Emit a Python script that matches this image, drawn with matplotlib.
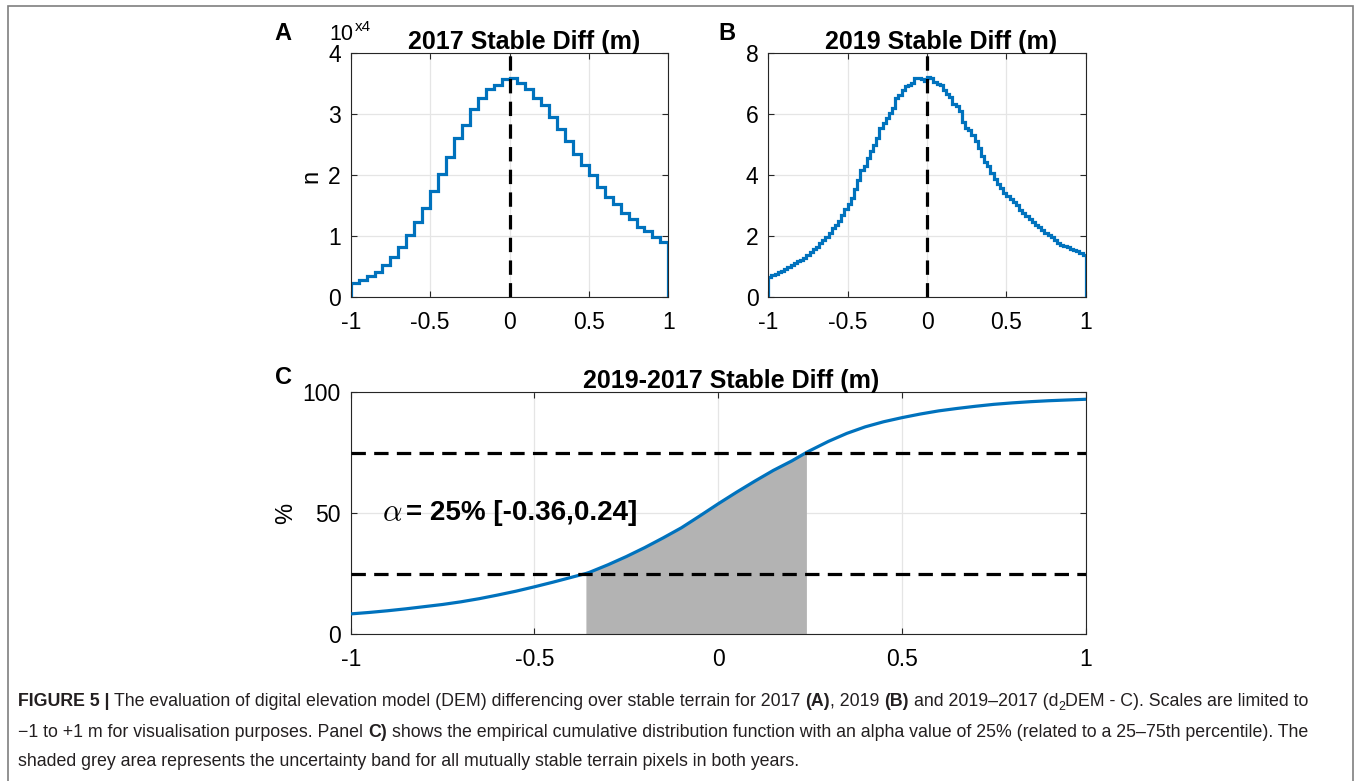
import numpy as np
import matplotlib
matplotlib.use('Agg')
import matplotlib.pyplot as plt
from matplotlib.transforms import IdentityTransform
from matplotlib.patches import Rectangle

plt.rcParams['font.family'] = ['Liberation Sans', 'DejaVu Sans']
plt.rcParams['axes.unicode_minus'] = False

#-- data (counts in units of 10^4)
edges_2017 = np.linspace(-1, 1, 41)
hist_2017 = [0.22, 0.28, 0.34, 0.41, 0.52, 0.66, 0.81, 1.02, 1.23, 1.46,
             1.74, 2.02, 2.30, 2.60, 2.82, 3.08, 3.26, 3.42, 3.48, 3.57,
             3.59, 3.51, 3.42, 3.27, 3.15, 2.96, 2.75, 2.56, 2.34, 2.16,
             2.00, 1.80, 1.64, 1.52, 1.38, 1.27, 1.15, 1.08, 0.98, 0.90]

edges_2019 = np.linspace(-1, 1, 101)
hist_2019 = [0.66, 0.72, 0.76, 0.80, 0.84, 0.90, 0.96, 1.03, 1.10, 1.16,
             1.21, 1.27, 1.36, 1.48, 1.56, 1.64, 1.75, 1.86, 1.97, 2.10,
             2.25, 2.36, 2.50, 2.68, 2.88, 3.05, 3.25, 3.55, 3.82, 4.15,
             4.30, 4.55, 4.80, 4.98, 5.22, 5.55, 5.70, 5.88, 6.05, 6.20,
             6.52, 6.62, 6.78, 6.92, 6.96, 7.02, 7.20, 7.18, 7.15, 7.10,
             7.22, 7.20, 7.06, 7.00, 6.95, 6.78, 6.65, 6.55, 6.35, 6.28,
             6.10, 5.75, 5.55, 5.48, 5.30, 5.12, 4.88, 4.62, 4.42, 4.30,
             4.05, 3.88, 3.70, 3.58, 3.42, 3.32, 3.22, 3.10, 3.00, 2.86,
             2.74, 2.66, 2.55, 2.46, 2.35, 2.28, 2.18, 2.10, 2.02, 1.95,
             1.85, 1.78, 1.70, 1.66, 1.63, 1.58, 1.54, 1.50, 1.45, 1.36]

cdf_x = [-1.0, -0.95, -0.9, -0.85, -0.8, -0.75, -0.7, -0.65, -0.6, -0.55,
         -0.5, -0.45, -0.4, -0.36, -0.35, -0.3, -0.25, -0.2, -0.15, -0.1,
         -0.05, 0.0, 0.05, 0.1, 0.15, 0.2, 0.24, 0.25, 0.3, 0.35, 0.4,
         0.45, 0.5, 0.55, 0.6, 0.65, 0.7, 0.75, 0.8, 0.85, 0.9, 0.95, 1.0]
cdf_y = [8.3, 8.9, 9.6, 10.4, 11.3, 12.2, 13.3, 14.6, 16.1, 17.7,
         19.5, 21.4, 23.4, 25.0, 25.5, 28.6, 32.0, 35.7, 39.7, 43.9,
         48.8, 53.8, 58.6, 63.2, 67.6, 71.5, 75.0, 75.8, 79.6, 82.9, 85.6,
         87.7, 89.4, 90.9, 92.2, 93.2, 94.1, 94.9, 95.5, 96.0, 96.4, 96.7, 97.0]
alpha_lo, alpha_hi = -0.36, 0.24
alpha_pct = 25

blue = '#0072BD'
W, H = 1356, 781
dash = (0, (4.5, 2.6))
tick_size = 16.5
title_size = 18


def setup_ax(ax):
    ax.set_xlim(-1, 1)
    ax.set_xticks([-1, -0.5, 0, 0.5, 1])
    ax.set_xticklabels(['-1', '-0.5', '0', '0.5', '1'])
    ax.grid(True, color='#e5e5e5', lw=0.9)
    ax.set_axisbelow(True)
    ax.tick_params(direction='in', top=True, right=True, length=4,
                   labelsize=tick_size, color='#262626')
    ax.tick_params(axis='x', pad=10)
    ax.tick_params(axis='y', pad=7)
    for s in ax.spines.values():
        s.set_color('#262626')
        s.set_linewidth(0.8)


def pix_ax(l, t, r, b):
    return fig.add_axes([l / W, 1 - b / H, (r - l) / W, (b - t) / H])


fig = plt.figure(figsize=(W / 100, H / 100), dpi=100)
it = IdentityTransform()

#-- panel A
axA = pix_ax(350.7, 53.3, 668.3, 296.7)
axA.stairs(hist_2017, edges_2017, color=blue, lw=2.3, baseline=0)
axA.set_ylim(0, 4)
axA.set_yticks([0, 1, 2, 3, 4])
setup_ax(axA)
axA.axvline(0, color='k', lw=2.3, ls=dash)
axA.set_title('2017 Stable Diff (m)', fontsize=title_size, fontweight='bold',
              pad=3, x=0.545)

#-- panel B
axB = pix_ax(768.3, 53.3, 1085.7, 296.7)
axB.stairs(hist_2019, edges_2019, color=blue, lw=2.3, baseline=0)
axB.set_ylim(0, 8)
axB.set_yticks([0, 2, 4, 6, 8])
setup_ax(axB)
axB.axvline(0, color='k', lw=2.3, ls=dash)
axB.set_title('2019 Stable Diff (m)', fontsize=title_size, fontweight='bold',
              pad=3, x=0.545)

#-- panel C
axC = pix_ax(350.7, 392, 1085.7, 634)
cx = np.array(cdf_x)
cy = np.array(cdf_y)
band = (cx >= alpha_lo) & (cx <= alpha_hi)
axC.fill_between(cx[band], 0, cy[band], color='#b3b3b3', lw=0, zorder=2)
axC.plot(cx, cy, color=blue, lw=2.3, zorder=3)
axC.axhline(alpha_pct, color='k', lw=2.3, ls=dash, zorder=4)
axC.axhline(100 - alpha_pct, color='k', lw=2.3, ls=dash, zorder=4)
axC.set_ylim(0, 100)
axC.set_yticks([0, 50, 100])
setup_ax(axC)
axC.set_title('2019-2017 Stable Diff (m)', fontsize=title_size, fontweight='bold',
              pad=3, x=0.518)
axC.text(-0.915, 50, r'$\alpha$', fontsize=22, va='center', ha='left',
         math_fontfamily='cm')
axC.text(-0.85, 50, '= %d%% [%.2f,%.2f]' % (alpha_pct, alpha_lo, alpha_hi),
         fontsize=20, fontweight='bold', va='center', ha='left')

#-- y labels, panel letters and exponent
fig.text(311, H - 176, 'n', transform=it, fontsize=17, rotation=90,
         ha='center', va='center')
fig.text(286, H - 513, '%', transform=it, fontsize=17, rotation=90,
         ha='center', va='center')
for lab, px, py in [('A', 283, 33), ('B', 727, 33), ('C', 283, 378)]:
    fig.text(px, H - py, lab, transform=it, fontsize=17, fontweight='bold',
             ha='center', va='center')
fig.text(329, H - 34, '10', transform=it, fontsize=15.5, ha='left', va='center')
fig.text(355, H - 27, 'x4', transform=it, fontsize=11, ha='left', va='center')

#-- frame
fig.patches.append(Rectangle((8, -20), 1345, H - 6 + 20, transform=it,
                             fill=False, edgecolor='#7f7f7f', lw=1.2))

#-- caption
renderer = fig.canvas.get_renderer()
cap_size = 12.8
cap_col = '#231f20'


def width_of(txt, size, weight):
    t = fig.text(0, 0, txt, fontsize=size, fontweight=weight, transform=it)
    w = t.get_window_extent(renderer).width
    t.remove()
    return w


space_w = width_of('a a', cap_size, 'normal') - width_of('aa', cap_size, 'normal')


def write_runs(x, y, runs):
    for txt, weight, dy, scale, gap in runs:
        t = fig.text(x, H - y + dy, txt, transform=it, fontsize=cap_size * scale,
                     fontweight=weight, va='baseline', ha='left', color=cap_col)
        x += t.get_window_extent(renderer).width
        if gap:
            x += space_w


write_runs(18, 706, [
    ('FIGURE 5 |', 'bold', 0, 1, True),
    ('The evaluation of digital elevation model (DEM) differencing over stable terrain for 2017', 'normal', 0, 1, True),
    ('(A)', 'bold', 0, 1, False),
    (', 2019', 'normal', 0, 1, True),
    ('(B)', 'bold', 0, 1, True),
    ('and 2019\u20132017 (d', 'normal', 0, 1, False),
    ('2', 'normal', -4, 0.7, False),
    ('DEM - C). Scales are limited to', 'normal', 0, 1, False),
])
write_runs(18, 737, [
    ('\u22121 to +1 m for visualisation purposes. Panel', 'normal', 0, 1, True),
    ('C)', 'bold', 0, 1, True),
    ('shows the empirical cumulative distribution function with an alpha value of 25% (related to a 25\u201375th percentile). The', 'normal', 0, 1, False),
])
write_runs(18, 766, [
    ('shaded grey area represents the uncertainty band for all mutually stable terrain pixels in both years.', 'normal', 0, 1, False),
])

fig.savefig('out.png', dpi=100)
